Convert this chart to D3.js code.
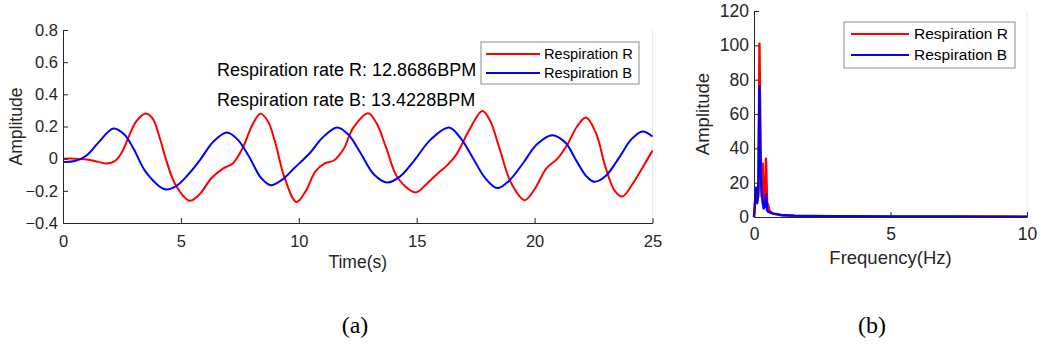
<!DOCTYPE html>
<html>
<head>
<meta charset="utf-8">
<script src="https://cdn.jsdelivr.net/npm/d3@7"></script>
<style>
  body { margin: 0; background: #fff; }
  svg { display: block; font-family: "Liberation Sans", Arial, sans-serif; }
</style>
</head>
<body>
<svg id="fig" width="1041" height="349"></svg>
<script>
// time signal (a): [seconds, amplitude]
var timeR = [[0,0],[0.5,0],[1,-0.005],[1.5,-0.02],[1.85,-0.03],[2.2,-0.015],[2.5,0.04],[2.8,0.14],[3.1,0.23],[3.48,0.28],
  [3.8,0.25],[4.1,0.13],[4.4,-0.02],[4.8,-0.17],[5.37,-0.262],[5.8,-0.22],[6.3,-0.12],[6.8,-0.06],[7.2,-0.03],[7.6,0.06],
  [8,0.2],[8.37,0.28],[8.7,0.23],[9,0.1],[9.4,-0.12],[9.9,-0.27],[10.3,-0.2],[10.7,-0.08],[11.1,-0.03],[11.5,-0.01],
  [11.9,0.06],[12.3,0.19],[12.94,0.283],[13.3,0.22],[13.7,0.07],[14.2,-0.12],[14.95,-0.21],[15.4,-0.16],[15.9,-0.09],
  [16.3,-0.04],[16.7,0.03],[17.2,0.17],[17.78,0.297],[18.1,0.24],[18.5,0.07],[19,-0.15],[19.58,-0.258],[20,-0.19],
  [20.5,-0.06],[20.97,0],[21.4,0.09],[21.8,0.2],[22.18,0.256],[22.6,0.16],[23,-0.05],[23.4,-0.2],[23.73,-0.235],
  [24.1,-0.17],[24.6,-0.05],[25,0.05]];
var timeB = [[0,-0.02],[0.5,-0.015],[1,0.02],[1.5,0.1],[2.14,0.187],[2.6,0.15],[3,0.06],[3.5,-0.08],[4.33,-0.19],
  [4.8,-0.17],[5.3,-0.1],[5.8,-0.01],[6.4,0.11],[6.95,0.163],[7.4,0.12],[7.9,0.01],[8.4,-0.12],[8.8,-0.165],[9.3,-0.13],
  [9.8,-0.06],[10.5,0.04],[11,0.13],[11.63,0.194],[12.1,0.15],[12.6,0.04],[13.2,-0.1],[13.75,-0.148],[14.3,-0.11],
  [14.9,-0.01],[15.6,0.12],[16.37,0.194],[16.9,0.12],[17.4,0],[17.9,-0.12],[18.42,-0.183],[18.9,-0.14],[19.5,-0.03],
  [20.1,0.09],[20.76,0.146],[21.3,0.1],[21.8,-0.02],[22.2,-0.11],[22.53,-0.144],[23,-0.11],[23.6,0.01],[24.1,0.12],
  [24.58,0.169],[25,0.138]];

// spectrum (b): [Hz, amplitude]
var freqR = [[0,0],[0.04,8],[0.08,13],[0.12,10],[0.16,12],[0.2,101],[0.24,40],[0.28,12],[0.32,31],[0.36,5],[0.4,10],
  [0.44,34],[0.48,8],[0.52,7],[0.56,4],[0.6,3],[0.7,2],[0.8,1.5],[1,1],[1.5,0.6],[2,0.4],[3,0.3],[5,0.2],[7,0.15],[10,0.1]];
var freqB = [[0,0],[0.04,10],[0.08,17],[0.12,8],[0.16,16],[0.2,76],[0.24,28],[0.28,15],[0.32,8],[0.36,5],[0.4,6],
  [0.44,13],[0.48,4],[0.52,3],[0.6,2.5],[0.7,2],[0.8,1.8],[1,1.2],[1.5,0.8],[2,0.6],[3,0.4],[5,0.3],[7,0.25],[10,0.2]];

var timeTicksY = [-0.4, -0.2, 0, 0.2, 0.4, 0.6, 0.8];
var timeTicksX = [0, 5, 10, 15, 20, 25];
var freqTicksY = [0, 20, 40, 60, 80, 100, 120];
var freqTicksX = [0, 5, 10];
var seriesNames = ["Respiration R", "Respiration B"];
var seriesColors = ["#ff0000", "#0000ff"];
var notes = ["Respiration rate R: 12.8686BPM", "Respiration rate B: 13.4228BPM"];

var svg = d3.select("#fig");
var ink = "#262626";

var panel = function(o){
    var x = d3.scaleLinear().domain(o.xdom).range([o.left, o.right]);
    var y = d3.scaleLinear().domain(o.ydom).range([o.bottom, o.top]);
    var g = svg.append("g");

    // faint right edge
    g.append("line")
        .attr("x1", o.right).attr("x2", o.right)
        .attr("y1", o.top).attr("y2", o.bottom)
        .attr("stroke", "#ebebeb");

    var line = d3.line()
        .x(function(d){ return x(d[0]); })
        .y(function(d){ return y(d[1]); })
        .curve(o.curve);

    o.series.forEach(function(s, i){
        g.append("path")
            .datum(s)
            .attr("d", line)
            .attr("fill", "none")
            .attr("stroke", seriesColors[i])
            .attr("stroke-width", o.lw)
            .attr("stroke-linejoin", "round");
    });

    var xa = d3.axisBottom(x).tickValues(o.xticks).tickSizeInner(-5).tickSizeOuter(0).tickPadding(o.xpad);
    var ya = d3.axisLeft(y).tickValues(o.yticks).tickSizeInner(-5).tickSizeOuter(0).tickPadding(5);
    if (o.yfmt) ya.tickFormat(o.yfmt);

    var gx = g.append("g").attr("transform", "translate(0," + o.bottom + ")").call(xa);
    var gy = g.append("g").attr("transform", "translate(" + o.left + ",0)").call(ya);
    [gx, gy].forEach(function(a){
        a.select(".domain").attr("stroke", ink);
        a.selectAll(".tick line").attr("stroke", ink);
        a.selectAll(".tick text").attr("fill", ink).style("font-size", o.tickSize + "px");
    });

    g.append("text")
        .attr("x", (o.left + o.right) / 2).attr("y", o.xlabY)
        .attr("text-anchor", "middle")
        .style("font-size", o.labSize + "px").attr("fill", ink)
        .text(o.xlab);
    g.append("text")
        .attr("transform", "translate(" + o.ylabX + "," + ((o.top + o.bottom) / 2) + ") rotate(-90)")
        .attr("text-anchor", "middle")
        .style("font-size", o.labSize + "px").attr("fill", ink)
        .text("Amplitude");

    // legend
    var lg = o.legend;
    g.append("rect")
        .attr("x", lg.x).attr("y", lg.y).attr("width", lg.w).attr("height", lg.h)
        .attr("fill", "#fff").attr("stroke", "#8c8c8c");
    seriesNames.forEach(function(n, i){
        var cy = lg.y + lg.row0 + i * lg.step;
        g.append("line")
            .attr("x1", lg.x + lg.l0).attr("x2", lg.x + lg.l1)
            .attr("y1", cy).attr("y2", cy)
            .attr("stroke", seriesColors[i]).attr("stroke-width", 2);
        g.append("text")
            .attr("x", lg.x + lg.tx).attr("y", cy).attr("dy", "0.35em")
            .style("font-size", lg.size + "px").attr("fill", "#000")
            .text(n);
    });
    return g;
};

var ga = panel({
    xdom: [0, 25], ydom: [-0.4, 0.8],
    left: 63, right: 652.5, top: 30, bottom: 223,
    series: [timeR, timeB], curve: d3.curveCatmullRom.alpha(0.5), lw: 2,
    xticks: timeTicksX, yticks: timeTicksY, xpad: 12,
    yfmt: function(d){ return d === 0 ? "0" : d3.format(".1f")(d); },
    tickSize: 16.5, labSize: 17.5,
    xlab: "Time(s)", xlabY: 268, ylabX: 22,
    legend: {x: 481, y: 42, w: 158, h: 42, row0: 12, step: 19, l0: 5, l1: 59, tx: 63, size: 14.7}
});

notes.forEach(function(t, i){
    ga.append("text")
        .attr("x", 217).attr("y", 76 + i * 30)
        .style("font-size", "18px").attr("fill", "#000")
        .text(t);
});

panel({
    xdom: [0, 10], ydom: [0, 120],
    left: 754, right: 1027, top: 11, bottom: 217,
    series: [freqR, freqB], curve: d3.curveLinear, lw: 2.4,
    xticks: freqTicksX, yticks: freqTicksY, xpad: 11,
    tickSize: 17.5, labSize: 18.5,
    xlab: "Frequency(Hz)", xlabY: 264, ylabX: 709,
    legend: {x: 844, y: 22, w: 171, h: 46, row0: 12, step: 21, l0: 7, l1: 65, tx: 70, size: 15.5}
});

// panel captions
[["(a)", 355], ["(b)", 872]].forEach(function(c){
    svg.append("text")
        .attr("x", c[1]).attr("y", 333)
        .attr("text-anchor", "middle")
        .style("font-family", "'Liberation Serif', 'Times New Roman', serif")
        .style("font-size", "24px").attr("fill", "#000")
        .text(c[0]);
});
</script>
</body>
</html>
